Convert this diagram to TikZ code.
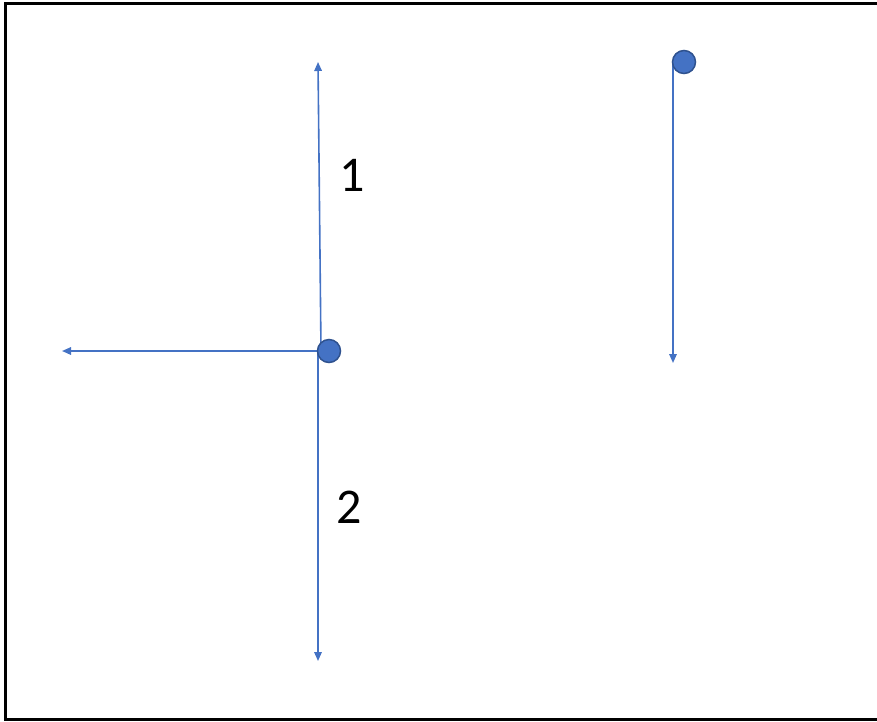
\documentclass[tikz,border=0pt]{standalone}
\usepackage{fontspec}
\setmainfont{Carlito}
\usetikzlibrary{arrows.meta}
\definecolor{accent}{HTML}{4472C4}
\definecolor{accentdark}{HTML}{2F528F}
\begin{document}
\begin{tikzpicture}[x=1pt,y=-1pt,
  vec/.style={draw=accent,line width=1.6pt,-{Triangle[length=9pt,width=7.5pt]}},
  dot/.style={circle,fill=accent,draw=accentdark,line width=1.5pt,minimum size=23pt,inner sep=0pt},
  lbl/.style={font=\fontsize{50}{50}\selectfont,inner sep=0pt}]
\useasboundingbox (0,0) rectangle (877,721);
\draw[line width=3pt] (880,3.5) -- (5.5,3.5) -- (5.5,719) -- (880,719);
% left system
\coordinate (o1) at (321,351);
\coordinate (o1b) at (318,351);
\coordinate (up) at (318,62);
\coordinate (lf) at (62,351);
\coordinate (dn) at (318,661);
\draw[vec] (o1) -- (up);
\draw[vec] (o1b) -- (lf);
\draw[vec] (o1b) -- (dn);
\node[dot] (d1) at (329,351) {};
\node[lbl] (l1) at (352,175) {1};
\node[lbl] (l2) at (349,507) {2};
% right system
\coordinate (o2) at (673,62);
\coordinate (dn2) at (673,363);
\draw[vec] (o2) -- (dn2);
\node[dot] (d2) at (684,62) {};
\end{tikzpicture}
\end{document}
